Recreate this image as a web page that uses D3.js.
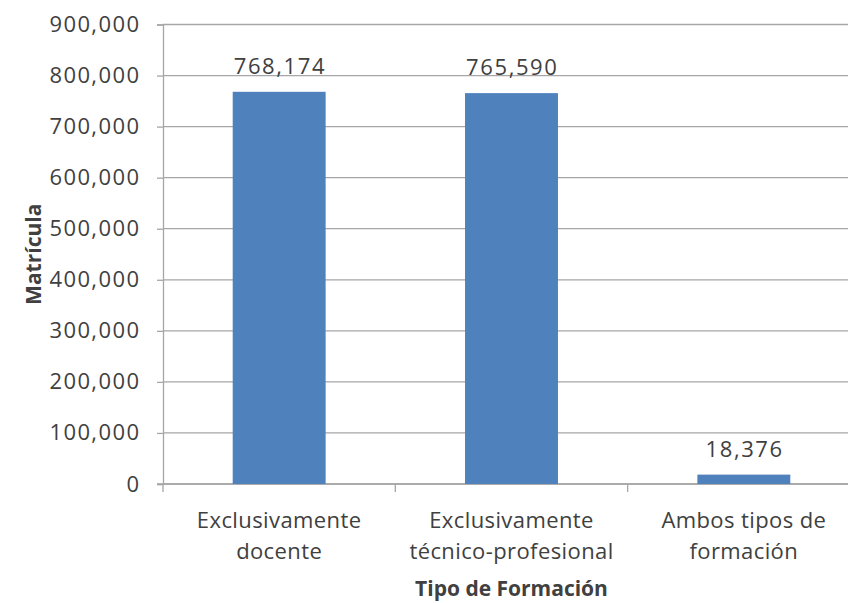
<!DOCTYPE html>
<html>
<head>
<meta charset="utf-8">
<script src="https://cdn.jsdelivr.net/npm/d3@7"></script>
<style>
  body { margin: 0; background: #fff; }
  text { font-family: "Open Sans", "Noto Sans", sans-serif; fill: #404040; }
</style>
</head>
<body>
<div id="chart"></div>
<script>
// data
const categories = [["Exclusivamente", "docente"], ["Exclusivamente", "técnico-profesional"], ["Ambos tipos de", "formación"]]
const values = [768174, 765590, 18376]
const yTicks = [0, 100000, 200000, 300000, 400000, 500000, 600000, 700000, 800000, 900000]

const margin = { top: 24.5, right: -12, bottom: 119, left: 163 }
const width = 848 - margin.left - margin.right
const height = 603 - margin.top - margin.bottom

const svg = d3.select("#chart").append("svg")
    .attr("width", 848)
    .attr("height", 603)

const g = svg.append("g").attr("transform", `translate(${margin.left}, ${margin.top})`)

const xScale = d3.scaleBand()
    .domain(d3.range(values.length))
    .range([0, width])
    .paddingInner(0.6)
    .paddingOuter(0.3)

const yScale = d3.scaleLinear()
    .domain([0, 900000])
    .range([height, 0])

const fmt = d3.format(",")

// gridlines
g.selectAll(".grid")
    .data(yTicks)
    .enter()
    .append("line")
    .attr("x1", 0)
    .attr("x2", width)
    .attr("y1", d => yScale(d))
    .attr("y2", d => yScale(d))
    .attr("stroke", "#a6a6a6")
    .attr("stroke-width", 1.3)

// y axis
const yAxis = g.append("g")
    .call(d3.axisLeft(yScale).tickValues(yTicks).tickFormat(fmt).tickSize(6).tickPadding(18))
yAxis.select(".domain").attr("stroke", "#a6a6a6").attr("stroke-width", 1.3)
yAxis.selectAll(".tick line").attr("stroke", "#a6a6a6").attr("stroke-width", 1.3)
yAxis.selectAll(".tick text")
    .style("font-size", "22px")
    .style("letter-spacing", "1.4px")
    .attr("fill", "#404040")
    .attr("dx", "1.4px")

// x axis
const xAxis = g.append("g").attr("transform", `translate(0, ${height})`)
xAxis.append("line")
    .attr("x1", -6).attr("x2", width)
    .attr("stroke", "#a6a6a6").attr("stroke-width", 1.3)
xAxis.selectAll(".xtick")
    .data(d3.range(values.length + 1))
    .enter()
    .append("line")
    .attr("x1", d => d * width / values.length)
    .attr("x2", d => d * width / values.length)
    .attr("y1", 0).attr("y2", 8)
    .attr("stroke", "#a6a6a6").attr("stroke-width", 1.3)

xAxis.selectAll(".xlabel")
    .data(categories)
    .enter()
    .append("text")
    .attr("text-anchor", "middle")
    .style("font-size", "22px")
    .style("letter-spacing", "0.4px")
    .each(function(d, i) {
        const t = d3.select(this)
        d.forEach((line, j) => {
            t.append("tspan")
                .attr("x", xScale(i) + xScale.bandwidth() / 2)
                .attr("y", 44 + j * 31)
                .text(line)
        })
    })

// bars
g.selectAll(".bar")
    .data(values)
    .enter()
    .append("rect")
    .attr("x", (d, i) => xScale(i))
    .attr("y", d => yScale(d))
    .attr("width", xScale.bandwidth())
    .attr("height", d => height - yScale(d))
    .attr("fill", "#4f81bd")

// data labels
g.selectAll(".lbl")
    .data(values)
    .enter()
    .append("text")
    .attr("x", (d, i) => xScale(i) + xScale.bandwidth() / 2 + 0.8)
    .attr("y", d => yScale(d) - 18)
    .attr("text-anchor", "middle")
    .style("font-size", "22px")
    .style("letter-spacing", "1.6px")
    .text(d => fmt(d))

// axis titles
svg.append("text")
    .attr("transform", `translate(41, ${margin.top + height / 2}) rotate(-90)`)
    .attr("text-anchor", "middle")
    .style("font-size", "21px")
    .style("font-weight", "bold")
    .text("Matrícula")

svg.append("text")
    .attr("x", margin.left + width / 2)
    .attr("y", 596)
    .attr("text-anchor", "middle")
    .style("font-size", "21px")
    .style("font-weight", "bold")
    .text("Tipo de Formación")
</script>
</body>
</html>
